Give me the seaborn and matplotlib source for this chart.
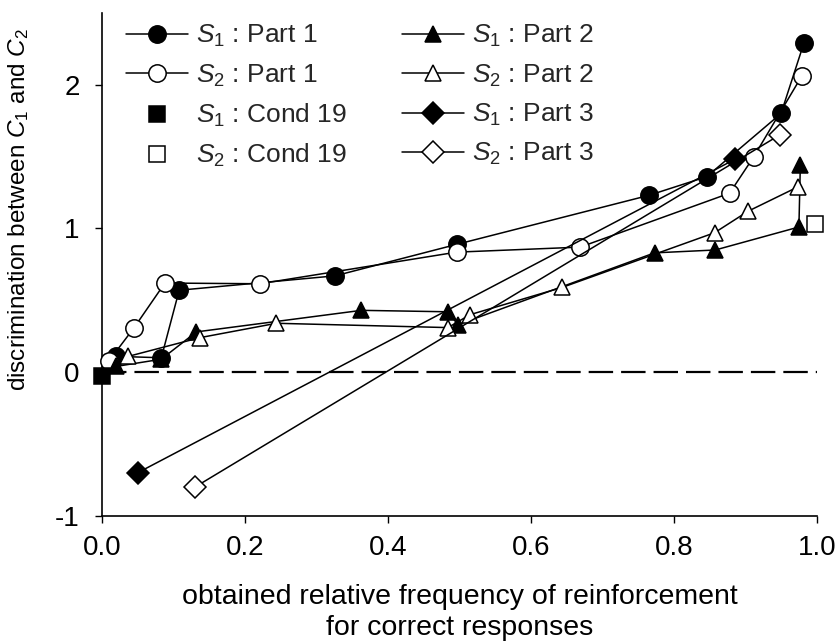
import matplotlib
matplotlib.use("Agg")
import matplotlib.pyplot as plt
import seaborn as sns
import pandas as pd

sns.set_theme(style="ticks")
plt.rcParams["font.family"] = ["Liberation Sans", "DejaVu Sans"]
plt.rcParams["mathtext.fontset"] = "custom"
plt.rcParams["mathtext.rm"] = "Liberation Sans"
plt.rcParams["mathtext.it"] = "Liberation Sans:italic"
plt.rcParams["mathtext.bf"] = "Liberation Sans:bold"

# Subject 1 / Subject 2, three experimental parts plus condition 19
s1_part1_x = [0.020, 0.083, 0.108, 0.326, 0.497, 0.765, 0.846, 0.950, 0.982]
s1_part1_y = [0.11, 0.10, 0.57, 0.67, 0.89, 1.23, 1.36, 1.80, 2.29]

s2_part1_x = [0.010, 0.045, 0.088, 0.221, 0.496, 0.669, 0.878, 0.912, 0.979]
s2_part1_y = [0.08, 0.31, 0.62, 0.615, 0.835, 0.87, 1.245, 1.50, 2.06]

s1_cond19_x = [0.0]
s1_cond19_y = [-0.03]

s2_cond19_x = [0.997]
s2_cond19_y = [1.03]

s1_part2_x = [0.020, 0.083, 0.132, 0.363, 0.484, 0.498, 0.773, 0.858, 0.975, 0.977]
s1_part2_y = [0.04, 0.09, 0.28, 0.43, 0.42, 0.33, 0.83, 0.85, 1.01, 1.44]

s2_part2_x = [0.037, 0.137, 0.244, 0.484, 0.515, 0.644, 0.857, 0.904, 0.974]
s2_part2_y = [0.11, 0.24, 0.34, 0.31, 0.40, 0.59, 0.97, 1.12, 1.29]

s1_part3_x = [0.050, 0.885]
s1_part3_y = [-0.70, 1.48]

s2_part3_x = [0.130, 0.948]
s2_part3_y = [-0.80, 1.65]

x_ticks = [0.0, 0.2, 0.4, 0.6, 0.8, 1.0]
x_tick_labels = ["0.0", "0.2", "0.4", "0.6", "0.8", "1.0"]
y_ticks = [-1, 0, 1, 2]
y_tick_labels = ["-1", "0", "1", "2"]

S1 = r"$S_{\mathit{1}}$"
S2 = r"$S_{\mathit{2}}$"

series = [
    # (x, y, label, marker, size, filled, connected)
    (s1_part1_x, s1_part1_y, S1 + " : Part 1", "o", 12.5, True, True),
    (s2_part1_x, s2_part1_y, S2 + " : Part 1", "o", 12.5, False, True),
    (s1_cond19_x, s1_cond19_y, S1 + " : Cond 19", "s", 11.5, True, False),
    (s2_cond19_x, s2_cond19_y, S2 + " : Cond 19", "s", 11.5, False, False),
    (s1_part2_x, s1_part2_y, S1 + " : Part 2", "^", 12, True, True),
    (s2_part2_x, s2_part2_y, S2 + " : Part 2", "^", 12, False, True),
    (s1_part3_x, s1_part3_y, S1 + " : Part 3", "D", 11, True, True),
    (s2_part3_x, s2_part3_y, S2 + " : Part 3", "D", 11, False, True),
]

fig = plt.figure(figsize=(8.36, 6.44), dpi=100)
ax = fig.add_axes([0.122, 0.199, 0.855, 0.781])

# reference line at zero discrimination
ax.axhline(0, color="black", lw=1.6, ls=(0, (11, 3.6)), zorder=1)

for x, y, label, marker, ms, filled, connected in series:
    df = pd.DataFrame({"x": x, "y": y})
    sns.lineplot(
        data=df, x="x", y="y", ax=ax, sort=False, estimator=None,
        color="black", lw=1.1 if connected else 0,
        linestyle="-" if connected else "none",
        marker=marker, markersize=ms,
        markerfacecolor="black" if filled else "white",
        markeredgecolor="black", markeredgewidth=1.1,
        label=label, clip_on=False, zorder=3,
    )

ax.set_xlim(0, 1)
ax.set_ylim(-1, 2.5)
ax.set_xticks(x_ticks)
ax.set_xticklabels(x_tick_labels)
ax.set_yticks(y_ticks)
ax.set_yticklabels(y_tick_labels)
ax.tick_params(axis="both", labelsize=20, length=5, width=1, color="black",
               labelcolor="black", direction="out")
ax.tick_params(axis="x", pad=9)
ax.tick_params(axis="y", pad=11)

for side in ("top", "right"):
    ax.spines[side].set_visible(False)
for side in ("left", "bottom"):
    ax.spines[side].set_color("black")
    ax.spines[side].set_linewidth(1.2)

ax.set_xlabel("obtained relative frequency of reinforcement\nfor correct responses",
              fontsize=20.5, color="black", labelpad=16, linespacing=1.25)
ax.set_ylabel(r"discrimination between $C_{\mathit{1}}$ and $C_{\mathit{2}}$",
              fontsize=17.5, color="black",
              family=["Liberation Sans Narrow", "Liberation Sans"])
ax.yaxis.set_label_coords(-0.1, 0.61)

handles, labels = ax.get_legend_handles_labels()
leg = ax.legend(handles, labels, ncol=2, loc="upper left", frameon=False,
                fontsize=19, handlelength=2.35, handletextpad=0.3,
                columnspacing=2.1, labelspacing=0.5,
                bbox_to_anchor=(0.015, 1.006), borderaxespad=0.1)

fig.savefig("out.png", dpi=100)
